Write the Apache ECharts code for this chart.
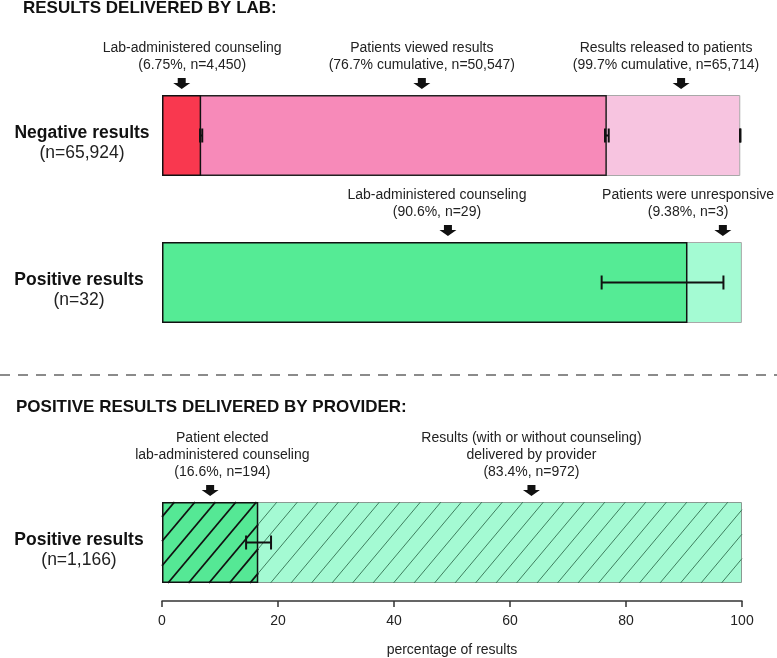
<!DOCTYPE html>
<html><head><meta charset="utf-8">
<script src="https://cdn.jsdelivr.net/npm/echarts@6/dist/echarts.min.js"></script>
<style>html,body{margin:0;padding:0;background:#fff}#c{width:777px;height:658px}</style>
</head><body><div id="c"></div>
<script>
const FONT = '"Liberation Sans", Arial, Helvetica, sans-serif';

const sectionTitles = ['RESULTS DELIVERED BY LAB:', 'POSITIVE RESULTS DELIVERED BY PROVIDER:'];
const rowLabels = ['Negative results', 'Positive results', 'Positive results'];
const rowCounts = ['n=65,924', 'n=32', 'n=1,166'];
const xTicks = [0, 20, 40, 60, 80, 100];
const xTitle = 'percentage of results';

// Negative results delivered by lab (cumulative %)
const negCumulative = [6.75, 76.7, 99.7];
const negErrors = [[6.56, 6.94], [76.38, 77.02], [99.66, 99.74]];
const negNotes = ['Lab-administered counseling\n(6.75%, n=4,450)', 'Patients viewed results\n(76.7% cumulative, n=50,547)', 'Results released to patients\n(99.7% cumulative, n=65,714)'];
const negArrowAt = [3.4, 44.8, 89.5];
const negNoteAt = [5.2, 44.8, 86.9];

// Positive results delivered by lab (%)
const posShares = [90.6, 9.38];
const posErrors = [[75.8, 96.8]];
const posNotes = ['Lab-administered counseling\n(90.6%, n=29)', 'Patients were unresponsive\n(9.38%, n=3)'];
const posArrowAt = [49.3, 96.7];
const posNoteAt = [47.4, 90.7];

// Positive results delivered by provider (%)
const provShares = [16.6, 83.4];
const provErrors = [[14.5, 18.8]];
const provNotes = ['Patient elected\nlab-administered counseling\n(16.6%, n=194)', 'Results (with or without counseling)\ndelivered by provider\n(83.4%, n=972)'];
const provArrowAt = [8.3, 63.7];
const provNoteAt = [10.4, 63.7];

const gridTops = [95, 242, 502];

function errItem(params, api) {
  const p1 = api.coord([api.value(0), 0]), p2 = api.coord([api.value(1), 0]);
  const y = p1[1], c = 7;
  const st = { stroke: '#111', lineWidth: 2 };
  return { type: 'group', children: [
    { type: 'line', shape: { x1: p1[0], y1: y, x2: p2[0], y2: y }, style: st },
    { type: 'line', shape: { x1: p1[0], y1: y - c, x2: p1[0], y2: y + c }, style: st },
    { type: 'line', shape: { x1: p2[0], y1: y - c, x2: p2[0], y2: y + c }, style: st }
  ]};
}

function noteItem(notes) {
  return function (params, api) {
    const ax = api.coord([api.value(0), 0])[0];
    const tx = api.coord([api.value(1), 0])[0];
    const top = params.coordSys.y;
    const yT = top - 17;
    return { type: 'group', children: [
      { type: 'polygon', shape: { points: [[ax - 4, yT], [ax + 4, yT], [ax + 4, yT + 5], [ax + 8.5, yT + 5], [ax, yT + 11], [ax - 8.5, yT + 5], [ax - 4, yT + 5]] }, style: { fill: '#111' } },
      { type: 'text', style: { text: notes[params.dataIndex], x: tx, y: top - 21, align: 'center', verticalAlign: 'bottom', fontSize: 14, fontFamily: FONT, lineHeight: 17, fill: '#222' } }
    ]};
  };
}

function hatchItem(params, api) {
  const x0 = api.coord([api.value(0), 0])[0], x1 = api.coord([api.value(1), 0])[0];
  const cs = params.coordSys;
  const yt = cs.y, h = cs.height, yb = yt + h;
  const origin = api.coord([0, 0])[0];
  const dark = api.value(2) === 0;
  const step = 20.5, run = h / Math.tan(50 * Math.PI / 180), phase = 6;
  const children = [];
  for (let bx = origin + phase - Math.ceil(run / step + 1) * step; bx < x1; bx += step) {
    const t0 = Math.max(0, (x0 - bx) / run), t1 = Math.min(1, (x1 - bx) / run);
    if (t1 <= t0) continue;
    children.push({ type: 'line', shape: { x1: bx + run * t0, y1: yb - h * t0, x2: bx + run * t1, y2: yb - h * t1 },
      style: { stroke: dark ? '#111' : '#3f7f5f', lineWidth: dark ? 1.8 : 1 } });
  }
  return { type: 'group', children };
}

const barBase = { type: 'bar', barWidth: '100%', barGap: '-100%', barCategoryGap: 0, silent: true, z: 2 };
const customBase = { type: 'custom', silent: true, clip: false, z: 10, dimensions: ['a', 'b', 'c', 'row'], encode: { x: [0, 1], y: 3 } };

const option = {
  backgroundColor: '#fff',
  animation: false,
  title: [
    { text: sectionTitles[0], left: 23, top: 0, padding: 0, textStyle: { fontSize: 17, fontWeight: 'bold', color: '#111', fontFamily: FONT } },
    { text: sectionTitles[1], left: 16, top: 399, padding: 0, textStyle: { fontSize: 17, fontWeight: 'bold', color: '#111', fontFamily: FONT } }
  ],
  graphic: [
    { type: 'line', shape: { x1: 0, y1: 375, x2: 777, y2: 375 }, style: { stroke: '#666', lineWidth: 1.5, lineDash: [10, 8] } }
  ],
  grid: gridTops.map(t => ({ left: 162, width: 580, top: t, height: 81 })),
  xAxis: [0, 1, 2].map(i => ({
    gridIndex: i, type: 'value', min: xTicks[0], max: xTicks[xTicks.length - 1], interval: xTicks[1] - xTicks[0],
    show: i === 2, offset: 18,
    axisLine: { show: true, lineStyle: { color: '#333', width: 1.5 } },
    axisTick: { show: true, length: 6, lineStyle: { color: '#333', width: 1.5 } },
    splitLine: { show: false },
    axisLabel: { fontSize: 14, color: '#222', margin: 13, fontFamily: FONT },
    name: i === 2 ? xTitle : '', nameLocation: 'middle', nameGap: 42,
    nameTextStyle: { fontSize: 14, color: '#222', fontFamily: FONT }
  })),
  yAxis: [0, 1, 2].map(i => ({
    gridIndex: i, type: 'category', data: [rowLabels[i]],
    axisLine: { show: false }, axisTick: { show: false }, splitLine: { show: false },
    axisLabel: {
      margin: i === 0 ? 80 : 83, align: 'center', padding: [16, 0, 0, 0],
      formatter: v => `{b|${v}}\n{n|(${rowCounts[i]})}`,
      rich: {
        b: { fontSize: 17.5, fontWeight: 'bold', color: '#111', fontFamily: FONT, lineHeight: 20, align: 'center' },
        n: { fontSize: 17.5, color: '#222', fontFamily: FONT, lineHeight: 20, align: 'center' }
      }
    }
  })),
  series: [
    // Negative results (lab)
    Object.assign({}, barBase, { xAxisIndex: 0, yAxisIndex: 0, data: [negCumulative[2]], itemStyle: { color: '#f7c4e0', borderColor: '#a8a8a8', borderWidth: 1 } }),
    Object.assign({}, barBase, { xAxisIndex: 0, yAxisIndex: 0, data: [negCumulative[1]], itemStyle: { color: '#f78ab9', borderColor: '#222', borderWidth: 1.5 } }),
    Object.assign({}, barBase, { xAxisIndex: 0, yAxisIndex: 0, data: [negCumulative[0]], itemStyle: { color: '#f9384f', borderColor: '#111', borderWidth: 1.5 } }),
    // Positive results (lab)
    Object.assign({}, barBase, { xAxisIndex: 1, yAxisIndex: 1, data: [posShares[0] + posShares[1]], itemStyle: { color: '#a4fbd3', borderColor: '#a8a8a8', borderWidth: 1 } }),
    Object.assign({}, barBase, { xAxisIndex: 1, yAxisIndex: 1, data: [posShares[0]], itemStyle: { color: '#55eb95', borderColor: '#111', borderWidth: 1.5 } }),
    // Positive results (provider)
    Object.assign({}, barBase, { xAxisIndex: 2, yAxisIndex: 2, data: [provShares[0] + provShares[1]], itemStyle: { color: '#a4fad3', borderColor: '#8a9a92', borderWidth: 1 } }),
    Object.assign({}, barBase, { xAxisIndex: 2, yAxisIndex: 2, data: [provShares[0]], itemStyle: { color: '#55e895', borderColor: '#111', borderWidth: 1.5 } }),
    Object.assign({}, customBase, { xAxisIndex: 2, yAxisIndex: 2, z: 5, renderItem: hatchItem,
      data: [[0, provShares[0], 0, 0], [provShares[0], provShares[0] + provShares[1], 1, 0]] }),
    // error bars
    Object.assign({}, customBase, { xAxisIndex: 0, yAxisIndex: 0, renderItem: errItem, data: negErrors.map(e => [e[0], e[1], 0, 0]) }),
    Object.assign({}, customBase, { xAxisIndex: 1, yAxisIndex: 1, renderItem: errItem, data: posErrors.map(e => [e[0], e[1], 0, 0]) }),
    Object.assign({}, customBase, { xAxisIndex: 2, yAxisIndex: 2, renderItem: errItem, data: provErrors.map(e => [e[0], e[1], 0, 0]) }),
    // annotations
    Object.assign({}, customBase, { xAxisIndex: 0, yAxisIndex: 0, renderItem: noteItem(negNotes), data: negArrowAt.map((a, i) => [a, negNoteAt[i], 0, 0]) }),
    Object.assign({}, customBase, { xAxisIndex: 1, yAxisIndex: 1, renderItem: noteItem(posNotes), data: posArrowAt.map((a, i) => [a, posNoteAt[i], 0, 0]) }),
    Object.assign({}, customBase, { xAxisIndex: 2, yAxisIndex: 2, renderItem: noteItem(provNotes), data: provArrowAt.map((a, i) => [a, provNoteAt[i], 0, 0]) })
  ]
};

const chart = echarts.init(document.getElementById('c'), null, { renderer: 'canvas' });
chart.setOption(option);
</script>
</body></html>
